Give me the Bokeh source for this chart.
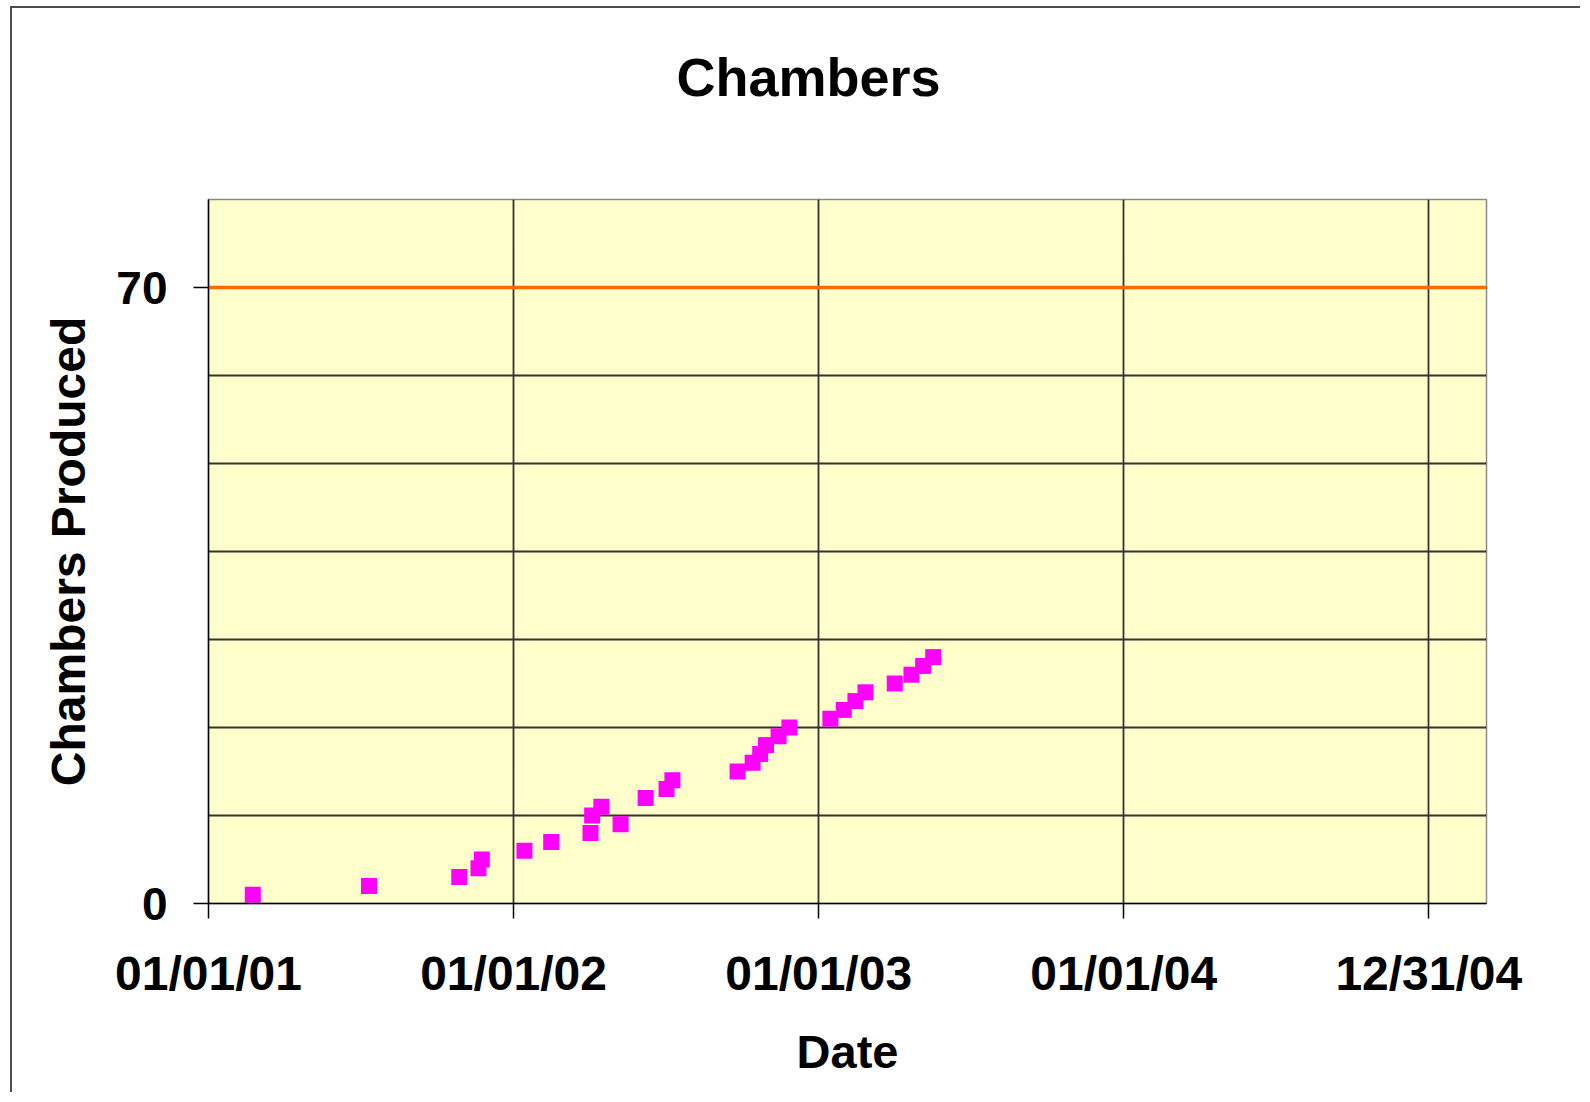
import pandas as pd
from bokeh.plotting import figure
from bokeh.models import Range1d, FixedTicker, DatetimeTickFormatter, LinearAxis, CustomJSTickFormatter
from bokeh.embed import file_html
from bokeh.resources import INLINE

# ---- data ----
produced_dates = ["2001-02-23", "2001-07-12", "2001-10-28", "2001-11-20", "2001-11-24",
                  "2002-01-14", "2002-02-15", "2002-04-03", "2002-04-05", "2002-04-16", "2002-05-09",
                  "2002-06-08", "2002-07-03", "2002-07-10",
                  "2002-09-26", "2002-10-14", "2002-10-23", "2002-10-30", "2002-11-14", "2002-11-27",
                  "2003-01-15", "2003-01-31", "2003-02-14", "2003-02-26",
                  "2003-04-02", "2003-04-22", "2003-05-06", "2003-05-18"]
chambers_produced = [1, 2, 3, 4, 5,
                     6, 7, 8, 10, 11, 9,
                     12, 13, 14,
                     15, 16, 17, 18, 19, 20,
                     21, 22, 23, 24,
                     25, 26, 27, 28]

target_dates = ["2001-01-01", "2005-03-10"]
target_values = [70, 70]

x_tick_dates = ["2001-01-01", "2002-01-01", "2003-01-01", "2004-01-01", "2004-12-31"]
y_tick_values = [0, 70]
y_grid_values = [10, 20, 30, 40, 50, 60, 70, 80]
y_min, y_max = 0, 80
chart_title = "Chambers"

# ---- figure ----
W, H = 1570, 1086
BL, BR, BT, BB = 196, 96, 191, 191
FONT = "Liberation Sans"

p = figure(width=W, height=H, x_axis_type="datetime",
           x_range=Range1d(pd.Timestamp(target_dates[0]), pd.Timestamp(target_dates[1])),
           y_range=Range1d(y_min, y_max),
           output_backend="svg", toolbar_location=None,
           min_border_left=BL, min_border_right=BR, min_border_top=BT, min_border_bottom=BB)
p.styles = {"border-left": "2px solid #4d4d4d", "border-top": "2px solid #4d4d4d",
            "margin-left": "10px", "margin-top": "6px"}

p.background_fill_color = "#FFFFCC"
p.border_fill_color = "white"
p.outline_line_color = "#8a8a8a"
p.outline_line_width = 1.5

# title
p.title.text = chart_title
p.title.text_font = FONT
p.title.text_font_size = "54px"
p.title.text_font_style = "bold"
p.title.text_color = "black"
p.title.align = "left"
p.title.offset = 468
p.title.standoff = 0

x_ticks_ms = [pd.Timestamp(d).value / 1e6 for d in x_tick_dates]

# main axes (grab them before adding the spacer)
xa = p.below[0]
ya = p.left[0]

# invisible spacer between title and frame (one hidden tick gives it its height)
spacer = LinearAxis(ticker=FixedTicker(ticks=[x_ticks_ms[0]]),
                    formatter=CustomJSTickFormatter(code="return ''"),
                    axis_line_color=None,
                    major_tick_line_color=None, minor_tick_line_color=None,
                    major_tick_out=93, major_tick_in=0, minor_tick_out=0,
                    major_label_standoff=0, major_label_text_font_size="0px",
                    major_label_text_alpha=0)
p.add_layout(spacer, "above")

# x axis
xa.ticker = FixedTicker(ticks=x_ticks_ms)
fmt = "%m/%d/%y"
xa.formatter = DatetimeTickFormatter(microseconds=fmt, milliseconds=fmt, seconds=fmt, minsec=fmt,
                                     minutes=fmt, hourmin=fmt, hours=fmt, days=fmt,
                                     months=fmt, years=fmt)
xa.axis_label = "Date"

# y axis
ya.ticker = FixedTicker(ticks=y_tick_values)
ya.axis_label = "Chambers Produced"

for ax in (xa, ya):
    ax.axis_line_color = "black"
    ax.axis_line_width = 1.5
    ax.major_tick_line_color = "black"
    ax.major_tick_line_width = 1.5
    ax.major_tick_out = 15
    ax.major_tick_in = 0
    ax.minor_tick_line_color = None
    ax.major_label_text_font = FONT
    ax.major_label_text_font_style = "bold"
    ax.major_label_text_color = "black"
    ax.axis_label_text_font = FONT
    ax.axis_label_text_font_style = "bold"
    ax.axis_label_text_color = "black"

xa.major_label_text_font_size = "48px"
ya.major_label_text_font_size = "46px"
xa.axis_label_text_font_size = "47px"
ya.axis_label_text_font_size = "48px"

xa.major_label_standoff = 28
xa.axis_label_standoff = 22
ya.major_label_standoff = 26
ya.axis_label_standoff = 18

# grids
p.xgrid.ticker = FixedTicker(ticks=x_ticks_ms)
p.ygrid.ticker = FixedTicker(ticks=y_grid_values)
for g in (p.xgrid, p.ygrid):
    g.grid_line_color = "#333333"
    g.grid_line_width = 1.8

# target line
p.line(x=pd.to_datetime(target_dates), y=target_values, line_color="#FF6A00", line_width=3.5)

# produced chambers
p.scatter(x=pd.to_datetime(produced_dates), y=chambers_produced, marker="square",
          size=16, fill_color="#FF00FF", line_color="#FF00FF", line_width=0)

open("out.html", "w").write(file_html(p, INLINE))
